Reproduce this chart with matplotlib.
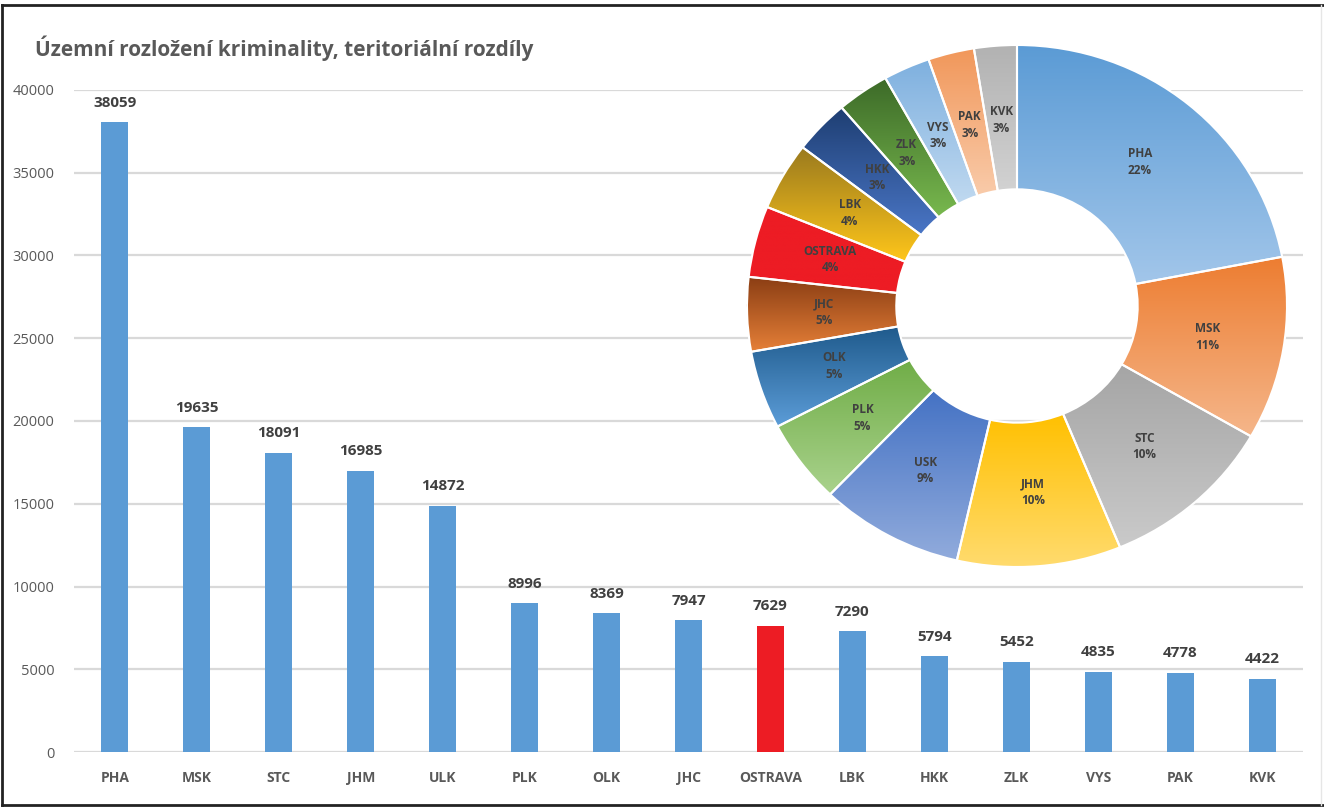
import numpy as np
import matplotlib
matplotlib.use("Agg")
import matplotlib.pyplot as plt
from matplotlib.colors import LinearSegmentedColormap
from matplotlib.lines import Line2D
from matplotlib.patches import Wedge

plt.rcParams["font.family"] = ["Open Sans", "DejaVu Sans"]

title = "Územní rozložení kriminality, teritoriální rozdíly"

regions = ["PHA", "MSK", "STC", "JHM", "ULK", "PLK", "OLK", "JHC", "OSTRAVA",
           "LBK", "HKK", "ZLK", "VYS", "PAK", "KVK"]
counts = [38059, 19635, 18091, 16985, 14872, 8996, 8369, 7947, 7629,
          7290, 5794, 5452, 4835, 4778, 4422]
highlight = "OSTRAVA"

pie_labels = ["PHA", "MSK", "STC", "JHM", "USK", "PLK", "OLK", "JHC", "OSTRAVA",
              "LBK", "HKK", "ZLK", "VYS", "PAK", "KVK"]
# top and bottom colour of each slice gradient
pie_top = ["#5B9BD5", "#ED7D31", "#A5A5A5", "#FFC000", "#4472C4", "#70AD47",
           "#1F5A8C", "#8B3E14", "#ED1C24", "#9A7A1E", "#1E3E72", "#3C6A28",
           "#7EB0DF", "#F1975A", "#B2B2B2"]
pie_bottom = ["#A2C6EA", "#F5B68A", "#CACACA", "#FFDB6E", "#91ABDC", "#A9D28C",
              "#5C9DD8", "#E68038", "#ED1C24", "#FFC61A", "#4A76C6", "#78B84E",
              "#C0D9F0", "#F9CBAA", "#D2D2D2"]

W, H = 1324, 809
fig = plt.figure(figsize=(W / 100, H / 100), dpi=100)

# ---- bar chart ----
ax = fig.add_axes([74 / W, 1 - 752 / H, (1303 - 74) / W, (752 - 90) / H])
colors = ["#ED1C24" if r == highlight else "#5B9BD5" for r in regions]
x = np.arange(len(regions))
bars = ax.bar(x, counts, width=0.33, color=colors, zorder=2)
ax.set_xlim(-0.5, len(regions) - 0.5)
ax.set_ylim(0, 40000)
ax.set_yticks(range(0, 40001, 5000))
ax.grid(axis="y", color="#D9D9D9", linewidth=1.6, zorder=0)
ax.set_axisbelow(True)
for s in ax.spines.values():
    s.set_visible(False)
ax.tick_params(axis="both", length=0)
ax.tick_params(axis="y", labelsize=10.5, labelcolor="#595959", pad=14)
ax.tick_params(axis="x", pad=14)
ax.set_xticks(x)
ax.set_xticklabels(regions, fontsize=10, fontweight="bold", color="#595959")
for b, v in zip(bars, counts):
    ax.annotate(str(v), (b.get_x() + b.get_width() / 2, v), xytext=(0, 9),
                textcoords="offset points", ha="center", va="bottom",
                fontsize=11, fontweight="bold", color="#404040")

fig.text(35 / W, 1 - 48 / H, title, fontsize=15, fontweight="bold",
         color="#595959", va="center", ha="left")

# ---- donut (slightly wider than tall, as in the pasted picture) ----
px0, px1, py0, py1 = 747, 1287, 45, 567
pax = fig.add_axes([px0 / W, 1 - py1 / H, (px1 - px0) / W, (py1 - py0) / H])
pax.axis("off")
pie_counts = counts
ring = 0.553
wedges, _ = pax.pie(pie_counts, startangle=90, counterclock=False, radius=1.0,
                    wedgeprops=dict(width=ring, edgecolor="none"),
                    colors=pie_top)
pax.set_aspect("auto")
inner = 1 - ring
total = sum(pie_counts)
for w, c0, c1, lab, v in zip(wedges, pie_top, pie_bottom, pie_labels, pie_counts):
    t1, t2 = np.radians(w.theta1), np.radians(w.theta2)
    tt = np.linspace(t1, t2, 60)
    xs = np.concatenate([np.cos(tt), inner * np.cos(tt)])
    ys = np.concatenate([np.sin(tt), inner * np.sin(tt)])
    cmap = LinearSegmentedColormap.from_list("g", [c1, c0])
    grad = np.linspace(0, 1, 128).reshape(-1, 1)
    im = pax.imshow(grad, cmap=cmap, origin="lower", aspect="auto",
                    extent=[xs.min(), xs.max(), ys.min(), ys.max()], zorder=1.5)
    im.set_clip_path(w)
    w.set_zorder(1)
    pax.add_patch(Wedge((0, 0), 1.0, w.theta1, w.theta2, width=ring,
                        facecolor="none", edgecolor="white", linewidth=1.5, zorder=2))
    mid = np.radians((w.theta1 + w.theta2) / 2)
    rl = 0.715
    pax.text(rl * np.cos(mid), rl * np.sin(mid), f"{lab}\n{round(100 * v / total)}%",
             ha="center", va="center", fontsize=8.5, fontweight="bold",
             color="#404040", linespacing=1.35, zorder=3)
pax.set_xlim(-1, 1)
pax.set_ylim(-1, 1)

# ---- frame of the collage ----
fig.add_artist(Line2D([2 / W, 2 / W], [1 - 805 / H, 1 - 5 / H], color="#222222", lw=2))
fig.add_artist(Line2D([2 / W, 1 - 1 / W], [1 - 5 / H, 1 - 5 / H], color="#222222", lw=2))
fig.add_artist(Line2D([2 / W, 1 - 1 / W], [1 - 805 / H, 1 - 805 / H], color="#222222", lw=2))
fig.add_artist(Line2D([1321 / W, 1321 / W], [1 - 805 / H, 1 - 5 / H], color="#E6E6E6", lw=1))

fig.savefig("out.png", dpi=100)
